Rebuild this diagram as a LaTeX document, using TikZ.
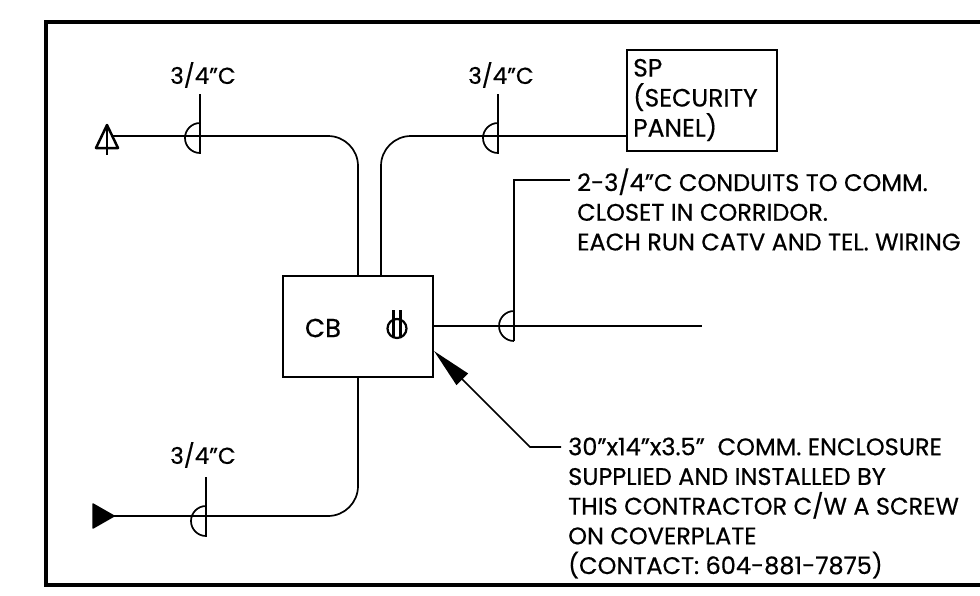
\documentclass[tikz,border=0pt]{standalone}
\usepackage{fontspec}
\setmainfont[FakeBold=0.5]{Poppins}
\usetikzlibrary{arrows.meta}
\tikzset{
  conduit/.style={draw,line width=1.7pt},
  panelbox/.style={draw,line width=1.8pt,minimum height=101pt,inner sep=0pt},
  note/.style={anchor=west,align=left,inner sep=0pt,font=\fontsize{24}{29.7}\selectfont},
  sizelabel/.style={inner sep=0pt,font=\fontsize{23}{25}\selectfont}
}
\begin{document}
\begin{tikzpicture}[x=1pt,y=-1pt]
\useasboundingbox (0,0) rectangle (980,595);
\draw[line width=4pt] (980,22) -- (46,22) -- (46,585) -- (980,585);

\node[panelbox,minimum width=150pt] (cb) at (358,326.5) {};
\node[panelbox,minimum width=150pt] (sp) at (702,100.5) {};
\node[sizelabel,font=\fontsize{26}{28}\selectfont] (cblabel) at (323,328) {CB};
\node[note,font=\fontsize{25}{30}\selectfont] (splabel) at (633,100) {SP\\(SECURITY\\PANEL)};
\node[note] (closetnote) at (577,209.5) {2-3/4"C CONDUITS TO COMM.\\CLOSET IN CORRIDOR.\\EACH RUN CATV AND TEL. WIRING};
\node[note] (enclosurenote) at (568,508) {30"x14"x3.5"\ \ COMM. ENCLOSURE\\SUPPLIED AND INSTALLED BY\\THIS CONTRACTOR C/W A SCREW\\ON COVERPLATE\\(CONTACT: 604-881-7875)};
\node[sizelabel] (sizea) at (203,75) {3/4"C};
\node[sizelabel] (sizeb) at (501,75) {3/4"C};
\node[sizelabel] (sizec) at (203,455) {3/4"C};

\coordinate (outa) at (107,136);
\coordinate (outc) at (107,516);
\coordinate (elbowa) at (358,136);
\coordinate (elbowb) at (381,136);
\coordinate (elbowc) at (358,516);
\coordinate (runend) at (702,326);
\coordinate (leadstart) at (570,180);
\coordinate (leadbend) at (514,180);
\coordinate (leadend) at (514,341);
\coordinate (arrowbend) at (530,447);
\coordinate (arrowstart) at (561,447);
\coordinate (arrowtip) at (434,351);

% conduit runs
\draw[conduit,rounded corners=30pt] (outa) -- (elbowa) -- (elbowa |- cb.north);
\draw[conduit,rounded corners=30pt] (sp.west |- elbowb) -- (elbowb) -- (elbowb |- cb.north);
\draw[conduit,rounded corners=30pt] (elbowc |- cb.south) -- (elbowc) -- (outc);
\draw[conduit] (cb.east |- runend) -- (runend);

% leaders
\draw[conduit] (leadstart) -- (leadbend) -- (leadend);
\draw[conduit,-{Triangle[length=40pt,width=16pt]}] (arrowstart) -- (arrowbend) -- (arrowtip);

% size marks on the runs
\foreach \x/\y in {200/138,498/138,206/521} {
  \draw[conduit] (\x,\y-44) -- (\x,\y+15) arc[start angle=-90,end angle=-270,radius=15pt];
}
\draw[conduit] (leadend) arc[start angle=-90,end angle=-270,radius=15pt];

% end markers
\draw[conduit,line join=round,line width=2.5pt,fill=white] (107,125) -- (118,148) -- (96,148) -- cycle;
\draw[conduit,line width=2.5pt] (107,125) -- (107,155);
\fill[line join=round,draw,line width=1.5pt] (93,504) -- (114,516) -- (93,528) -- cycle;

% outlet symbol in the box
\draw[conduit,line width=2.2pt] (397,328.5) circle[radius=9.5pt];
\draw[conduit,line width=2.2pt] (393.5,310) -- (393.5,337);
\draw[conduit,line width=2.2pt] (400.5,310) -- (400.5,337);
\end{tikzpicture}
\end{document}
